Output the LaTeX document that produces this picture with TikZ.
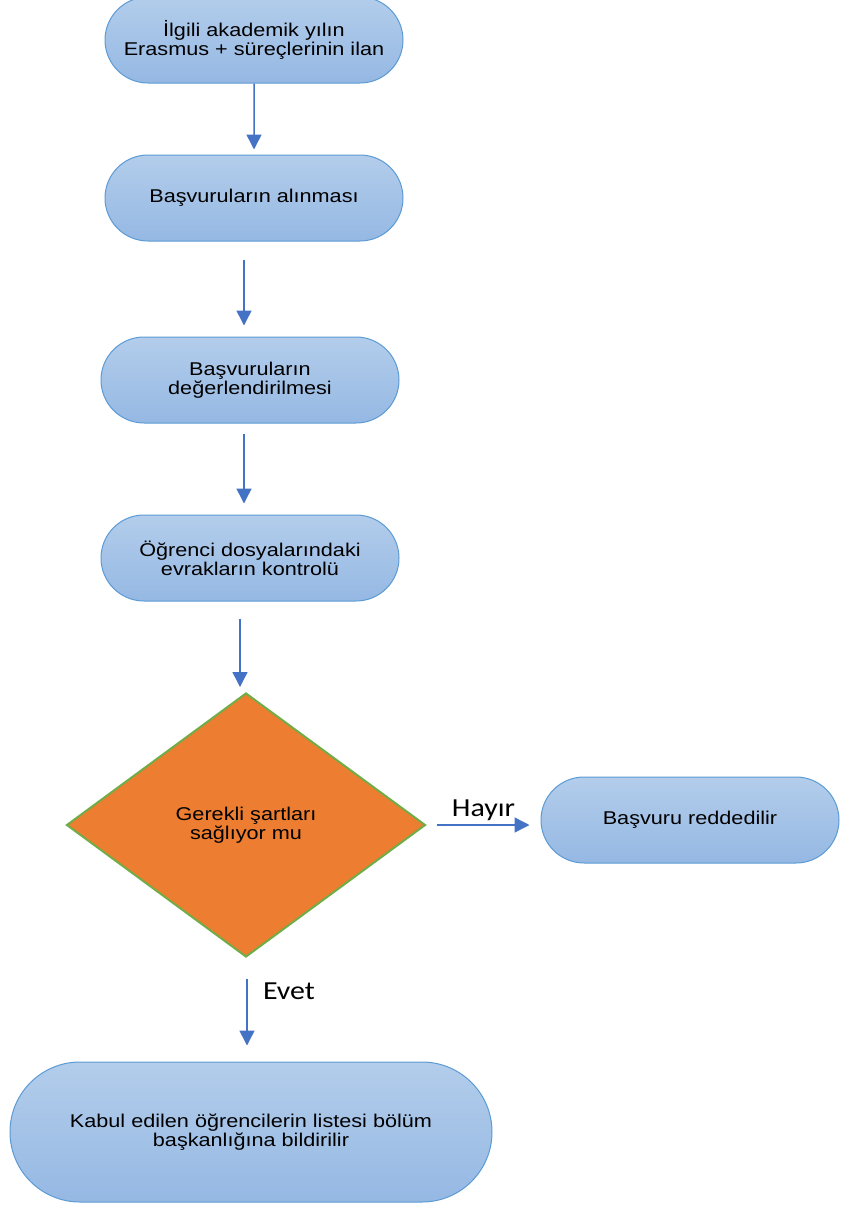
\documentclass[tikz,border=0pt]{standalone}
\usepackage{fontspec}
\setmainfont[FakeStretch=1.17]{Liberation Sans}
\newfontfamily\answerfont[FakeStretch=1.15]{Carlito}
\usetikzlibrary{arrows.meta,shapes.geometric,shapes.misc}

\definecolor{boxline}{HTML}{5B9BD5}
\definecolor{boxtop}{HTML}{B3CDEB}
\definecolor{boxbottom}{HTML}{95B8E3}
\definecolor{flowblue}{HTML}{4472C4}
\definecolor{decfill}{HTML}{ED7D31}
\definecolor{decline}{HTML}{70AD47}

\tikzset{
  process/.style={rounded rectangle, draw=boxline, line width=1pt,
                  top color=boxtop, bottom color=boxbottom,
                  minimum width=298pt, minimum height=86pt, inner sep=0pt,
                  align=center, font=\fontsize{18.5}{19}\selectfont},
  decision/.style={diamond, draw=decline, line width=2pt, fill=decfill,
                   minimum width=359pt, minimum height=264pt, inner sep=0pt,
                   align=center, font=\fontsize{18.5}{19}\selectfont},
  flow/.style={-{Triangle[width=15pt,length=15pt]}, draw=flowblue, line width=1.5pt},
  answer/.style={font=\answerfont\fontsize{26}{30}\selectfont, text=black}
}

\begin{document}
\begin{tikzpicture}[x=1pt, y=-1pt]

                \path[use as bounding box, fill=white] (0, 0) rectangle (845, 1205);

                % steps
                \node[process] (ilan) at (254, 40) {İlgili akademik yılın\\Erasmus + süreçlerinin ilan};
                \node[process] (alim) at (254, 198) {Başvuruların alınması};
                \node[process] (deger) at (250, 380) {Başvuruların\\değerlendirilmesi};
                \node[process] (kontrol) at (250, 558) {Öğrenci dosyalarındaki\\evrakların kontrolü};
                \node[decision] (karar) at (246, 825) {Gerekli şartları\\sağlıyor mu};
                \node[process] (red) at (690, 820) {Başvuru reddedilir};
                \node[process, minimum width=482pt, minimum height=140pt] (kabul) at (251, 1132)
                    {Kabul edilen öğrencilerin listesi bölüm\\başkanlığına bildirilir};

                % arrows
                \draw[flow, shorten >=5pt] (ilan) -- (alim);
                \draw[flow, shorten <=18pt, shorten >=11pt]
                    ([xshift=-10pt]alim.south) -- ([xshift=-6pt]deger.north);
                \draw[flow, shorten <=10pt, shorten >=11pt]
                    ([xshift=-6pt]deger.south) -- ([xshift=-6pt]kontrol.north);
                \draw[flow, shorten <=17pt, shorten >=5pt]
                    ([xshift=-10pt]kontrol.south) -- ([xshift=-6pt]karar.north);
                \draw[flow, shorten <=10pt, shorten >=11pt]
                    (karar.east) -- node[midway, above, answer] {Hayır} (karar.east -| red.west);
                \draw[flow, shorten <=21pt, shorten >=16pt]
                    ([xshift=1pt]karar.south) -- node[pos=0.2, anchor=north west, xshift=12pt, answer] {Evet}
                    ([xshift=-4pt]kabul.north);
            \end{tikzpicture}
\end{document}
